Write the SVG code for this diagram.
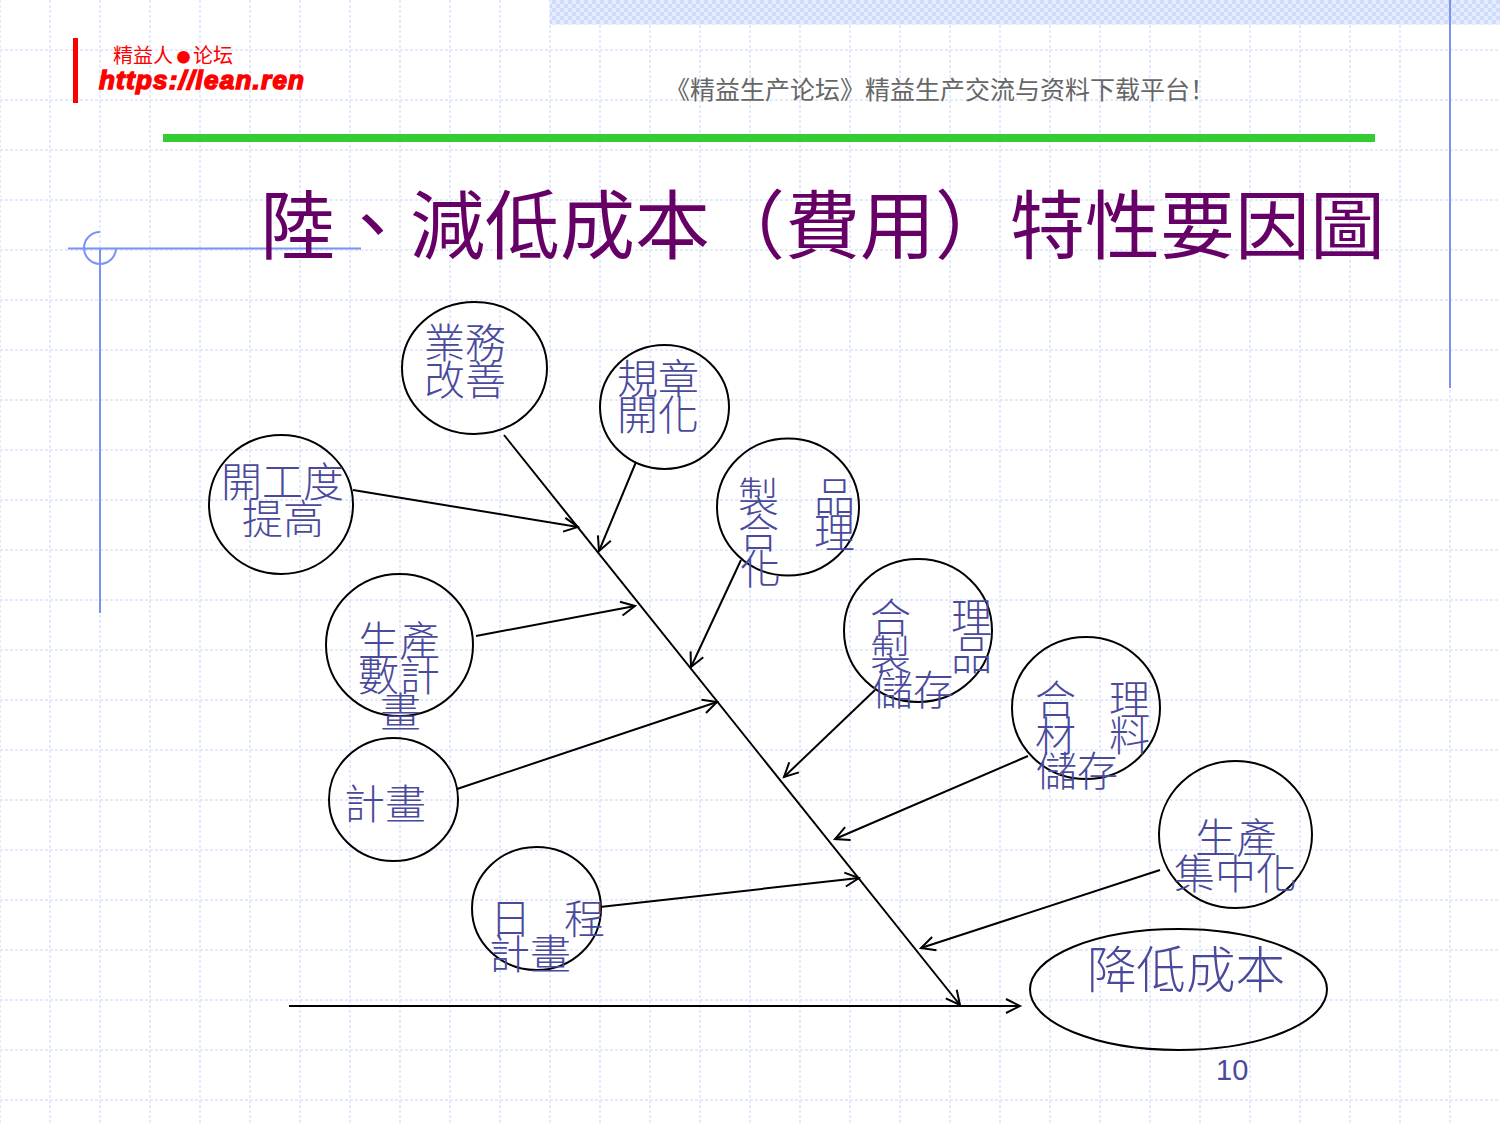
<svg xmlns="http://www.w3.org/2000/svg" width="1500" height="1125" viewBox="0 0 1500 1125">
<style>
.g{fill:none;stroke:#e3eafc;stroke-width:2;stroke-dasharray:3 2}
.b{fill:none;stroke:#7b92f2;stroke-width:2}
.n{fill:none;stroke:#000;stroke-width:2}
.c{fill:none;stroke:#000;stroke-width:2;marker-end:url(#a)}
.t{font-family:"Noto Sans CJK TC","Noto Sans CJK SC",sans-serif;font-weight:300;font-size:41px;fill:#4a4a9c}
</style>
<defs>
<marker id="a" markerUnits="userSpaceOnUse" markerWidth="24" markerHeight="24" refX="20" refY="10" orient="auto" overflow="visible"><path d="M6 3L20 10L6 17" fill="none" stroke="#000" stroke-width="2"/></marker>
<pattern id="p" width="8" height="8" patternUnits="userSpaceOnUse"><rect width="8" height="8" fill="#e6ecfd"/><rect width="4" height="4" fill="#cfdbfb"/><rect x="4" y="4" width="4" height="4" fill="#cfdbfb"/></pattern>
</defs>
<rect width="1500" height="1125" fill="#fff"/>
<g id="grid"><path class="g" d="M0 0V1125M50 0V1125M100 0V1125M150 0V1125M200 0V1125M250 0V1125M300 0V1125M350 0V1125M400 0V1125M450 0V1125M500 0V1125M550 0V1125M600 0V1125M650 0V1125M700 0V1125M750 0V1125M800 0V1125M850 0V1125M900 0V1125M950 0V1125M1000 0V1125M1050 0V1125M1100 0V1125M1150 0V1125M1200 0V1125M1250 0V1125M1300 0V1125M1350 0V1125M1400 0V1125M1450 0V1125"/><path class="g" d="M0 50H1500M0 100H1500M0 150H1500M0 200H1500M0 250H1500M0 300H1500M0 350H1500M0 400H1500M0 450H1500M0 500H1500M0 550H1500M0 600H1500M0 650H1500M0 700H1500M0 750H1500M0 800H1500M0 850H1500M0 900H1500M0 950H1500M0 1000H1500M0 1050H1500M0 1100H1500"/></g>
<rect x="550" y="0" width="950" height="24.500" fill="url(#p)"/>
<g id="decor">
<path class="b" d="M68 248.500H361M100 248V613M1450 0V388M100 232A16 16 0 1 0 116 248"/>
<rect x="73" y="38" width="5" height="65" fill="#f00"/>
<rect x="163" y="134" width="1212" height="8" fill="#33cc33"/>
</g>
<text x="113" y="63" font-family="Noto Sans CJK SC,sans-serif" font-size="20" fill="#f00">精益人<tspan x="176.500" font-size="14" dy="-1">●</tspan><tspan x="193" dy="1">论坛</tspan></text>
<text x="99" y="89" font-family="Liberation Sans,sans-serif" font-size="26" font-weight="700" font-style="italic" fill="#f00" stroke="#f00" stroke-width="1.500" textLength="205">https://lean.ren</text>
<text x="665" y="99" font-family="Noto Sans CJK SC,sans-serif" font-weight="400" font-size="25" fill="#666">《精益生产论坛》精益生产交流与资料下载平台！</text>
<text x="260" y="253" font-family="Noto Sans CJK TC,sans-serif" font-weight="400" font-size="75" fill="#660066">陸、減低成本（費用）特性要因圖</text>
<g id="connectors">
<path class="c" d="M504 435L960 1005"/>
<path class="c" d="M289 1006H1020"/>
<path class="c" d="M353 490L578 527"/>
<path class="c" d="M636 462L599 551"/>
<path class="c" d="M476 636L635 606"/>
<path class="c" d="M741 560L691 667"/>
<path class="c" d="M457 789L717 702"/>
<path class="c" d="M875 690L784 777"/>
<path class="c" d="M1028 756L835 839"/>
<path class="c" d="M600 907L859 878"/>
<path class="c" d="M1160 870L921 948"/>
</g>
<g id="n1"><ellipse class="n" cx="474.500" cy="368" rx="72.500" ry="66"/><text class="t" x="424" y="358">業務</text><text class="t" x="424" y="395">改善</text></g>
<g id="n2"><ellipse class="n" cx="664.500" cy="407" rx="64.500" ry="62"/><text class="t" x="617" y="394">規章</text><text class="t" x="617" y="430">開化</text></g>
<g id="n3"><ellipse class="n" cx="281" cy="504.500" rx="72" ry="69.500"/><text class="t" x="221" y="497">開工度</text><text class="t" x="242" y="534">提高</text></g>
<g id="n4"><ellipse class="n" cx="788" cy="507" rx="71" ry="68.500"/><text class="t" x="738" y="512">製</text><text class="t" x="814" y="512">品</text><text class="t" x="738" y="548">合</text><text class="t" x="814" y="548">理</text><text class="t" x="740" y="584">化</text></g>
<g id="n5"><ellipse class="n" cx="918" cy="630.500" rx="74" ry="71.500"/><text class="t" x="870" y="633">合</text><text class="t" x="951" y="633">理</text><text class="t" x="870" y="670">製</text><text class="t" x="951" y="670">品</text><text class="t" x="872" y="705">儲存</text></g>
<g id="n6"><ellipse class="n" cx="1086" cy="708" rx="74" ry="71"/><text class="t" x="1035" y="715">合</text><text class="t" x="1109" y="715">理</text><text class="t" x="1035" y="751">材</text><text class="t" x="1109" y="751">料</text><text class="t" x="1036" y="786">儲存</text></g>
<g id="n7"><ellipse class="n" cx="1235.500" cy="834.500" rx="76.500" ry="73.500"/><text class="t" x="1195" y="853">生產</text><text class="t" x="1174" y="889">集中化</text></g>
<g id="n8"><ellipse class="n" cx="399.500" cy="645" rx="73.500" ry="71"/><text class="t" x="358" y="656">生產</text><text class="t" x="358" y="691">數計</text><text class="t" x="380" y="727">畫</text></g>
<g id="n9"><ellipse class="n" cx="393.500" cy="799.500" rx="64.500" ry="61.500"/><text class="t" x="344" y="819">計畫</text></g>
<g id="n10"><ellipse class="n" cx="536.500" cy="908.500" rx="64.500" ry="61.500"/><text class="t" x="490" y="934">日</text><text class="t" x="564" y="934">程</text><text class="t" x="489" y="969">計畫</text></g>
<g id="n11"><ellipse class="n" cx="1178.500" cy="989.500" rx="148.500" ry="60.500"/><text class="t" x="1087" y="988" style="font-size:49.500px">降低成本</text></g>
<text x="1216" y="1080" font-family="Liberation Sans,sans-serif" font-size="29" fill="#4a4a9c">10</text>
</svg>
